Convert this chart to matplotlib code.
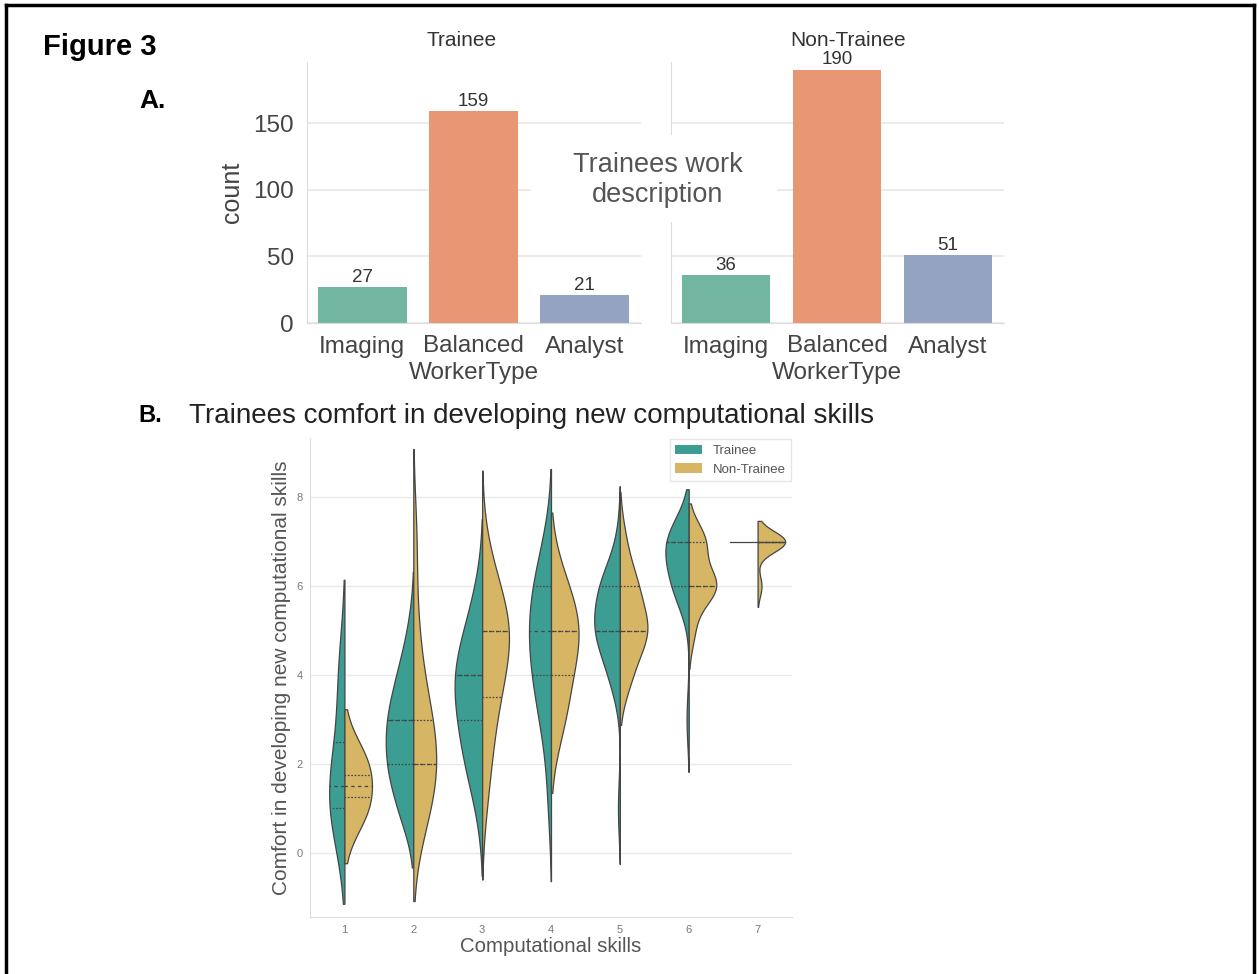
import colorsys
import matplotlib
matplotlib.use('Agg')
import matplotlib.pyplot as plt
import matplotlib.colors as mcolors
import numpy as np
from matplotlib.patches import Patch, Rectangle
from matplotlib.lines import Line2D

plt.rcParams['font.family'] = ['Liberation Sans', 'DejaVu Sans']

# panel A: how trainees / non-trainees describe their work
worker_types = ['Imaging', 'Balanced', 'Analyst']
trainee_counts = [27, 159, 21]
nontrainee_counts = [36, 190, 51]
bar_palette = ['#66c2a5', '#fc8d62', '#8da0cb']  # Set2

# panel B: number of answers per comfort rating (0..8) for each skill level 1..7
skill_levels = [1, 2, 3, 4, 5, 6, 7]
ratings = [0, 1, 2, 3, 4, 5, 6, 7, 8]
trainee_comfort = [
    [0, 2, 1, 0, 1, 0, 0, 0, 0],
    [0, 3, 5, 5, 3, 1, 0, 0, 0],
    [0, 1, 3, 4, 5, 3, 1, 0, 0],
    [0, 1, 1, 3, 5, 6, 5, 2, 0],
    [0, 1, 0, 0, 4, 10, 8, 1, 0],
    [0, 0, 0, 1, 0, 0, 6, 9, 0],
    [0, 0, 0, 0, 0, 0, 0, 1, 0],
]
nontrainee_comfort = [
    [0, 1, 1, 0, 0, 0, 0, 0, 0],
    [0, 3, 4, 3, 1, 1, 0, 1, 0],
    [0, 1, 2, 3, 5, 7, 4, 1, 0],
    [0, 0, 0, 1, 1, 2, 1, 0, 0],
    [0, 0, 0, 0, 2, 5, 3, 1, 0],
    [0, 0, 0, 0, 0, 1, 5, 3, 0],
    [0, 0, 0, 0, 0, 0, 1, 7, 0],
]
violin_colors = ['#3c9d93', '#d6b564']
group_names = ['Trainee', 'Non-Trainee']

W, H = 1259, 974
fig = plt.figure(figsize=(W / 100, H / 100), dpi=100)


def px_axes(l, t, r, b):
    return fig.add_axes([l / W, 1 - b / H, (r - l) / W, (b - t) / H])


def desat(c, s=0.75):
    h, l, sat = colorsys.rgb_to_hls(*mcolors.to_rgb(c))
    return colorsys.hls_to_rgb(h, l, sat * s)


def kde_curve(vals):
    bw = vals.std(ddof=1) * len(vals) ** (-1 / 5)
    grid = np.linspace(vals.min() - 2 * bw, vals.max() + 2 * bw, 100)
    z = (grid[:, None] - vals[None, :]) / bw
    dens = np.exp(-0.5 * z ** 2).sum(axis=1) / (len(vals) * bw * np.sqrt(2 * np.pi))
    return grid, dens


txt = '#444444'
spine_c = '#dcdcdc'
grid_c = '#e9e9e9'

# ---- panel A bars
ax1 = px_axes(306.5, 62, 640.5, 323)
ax2 = px_axes(670.5, 62, 1003.5, 323)
for ax, counts, title, tx in [(ax1, trainee_counts, 'Trainee', 0.463),
                              (ax2, nontrainee_counts, 'Non-Trainee', 0.533)]:
    ax.bar(range(3), counts, width=0.8, color=[desat(c) for c in bar_palette])
    ax.set_xlim(-0.5, 2.5)
    ax.set_ylim(0, 195.8)
    ax.set_yticks([0, 50, 100, 150])
    ax.set_xticks(range(3), worker_types)
    ax.grid(axis='y', color=grid_c, lw=1.3)
    ax.set_axisbelow(True)
    for s in ['top', 'right']:
        ax.spines[s].set_visible(False)
    for s in ['left', 'bottom']:
        ax.spines[s].set_color(spine_c)
    ax.tick_params(axis='x', length=0, labelsize=17.5, colors=txt, pad=9)
    ax.tick_params(axis='y', length=0, labelsize=17.5, colors=txt, pad=9)
    ax.set_xlabel('WorkerType', fontsize=17.5, color=txt, labelpad=3)
    for i, v in enumerate(counts):
        ax.text(i, v + 7.5, str(v), ha='center', va='center', fontsize=13.5, color='#333333')
    ax.text(tx, 1.084, title, transform=ax.transAxes, ha='center', va='center',
            fontsize=15, color='#333333')
ax2.tick_params(axis='y', labelleft=False)
ax1.set_ylabel('count', fontsize=18, color=txt, labelpad=7)

# ---- panel B split violins
ax3 = px_axes(310, 438, 792, 917)
gray = '#454545'
lw = 0.9
half_w = 0.4
for i in range(len(skill_levels)):
    groups = [np.repeat(ratings, trainee_comfort[i]).astype(float),
              np.repeat(ratings, nontrainee_comfort[i]).astype(float)]
    curves = [kde_curve(g) if len(g) > 1 else None for g in groups]
    peak = max(c[1].max() for c in curves if c is not None)
    for side, g, c, color in zip((-1, 1), groups, curves, violin_colors):
        if c is None:
            ax3.plot([i - half_w, i + half_w], [g[0], g[0]], color=gray, lw=lw, zorder=3)
            continue
        grid, dens = c
        w = dens / peak * half_w
        ax3.fill_betweenx(grid, i, i + side * w, facecolor=color, edgecolor=gray, lw=lw, zorder=2)
        for q, d in zip(np.percentile(g, [25, 50, 75]), [1.5, 3, 1.5]):
            wq = np.interp(q, grid, w)
            ax3.plot([i, i + side * wq], [q, q], color=gray, lw=lw, dashes=[lw * d] * 2, zorder=3)

ax3.set_xlim(-0.5, 6.5)
ax3.set_ylim(-1.44, 9.33)
ax3.set_yticks([0, 2, 4, 6, 8])
ax3.set_xticks(range(len(skill_levels)), skill_levels)
ax3.grid(axis='y', color=grid_c, lw=1.0)
ax3.set_axisbelow(True)
for s in ['top', 'right']:
    ax3.spines[s].set_visible(False)
for s in ['left', 'bottom']:
    ax3.spines[s].set_color(spine_c)
ax3.tick_params(axis='y', length=0, labelsize=8, colors='#777777', pad=5)
ax3.tick_params(axis='x', length=0, labelsize=8, colors='#777777', pad=6)
ax3.set_xlabel('Computational skills', fontsize=14.7, color='#555555', labelpad=1)
ax3.set_ylabel('Comfort in developing new computational skills', fontsize=15,
               color='#555555', labelpad=4)
handles = [Patch(facecolor=c, edgecolor='none') for c in violin_colors]
leg = ax3.legend(handles, group_names, loc='upper right', fontsize=9.5, labelcolor='#555555',
                 borderaxespad=0.1, handlelength=2.0, frameon=True, fancybox=False)
leg.get_frame().set_edgecolor('#e0e0e0')

# ---- figure level text
box = Rectangle((531 / W, 1 - 222 / H), (777 - 531) / W, (222 - 135) / H,
                transform=fig.transFigure, facecolor='white', edgecolor='none', zorder=1)
fig.add_artist(box)
fig.text(658 / W, 1 - 180 / H, 'Trainees work\ndescription', ha='center', va='center',
         fontsize=19.5, color='#555555', linespacing=1.25, zorder=2)
fig.text(43 / W, 1 - 47 / H, 'Figure 3', fontsize=21, fontweight='bold', va='center')
fig.text(139 / W, 1 - 101 / H, 'A.', fontsize=19, fontweight='bold', va='center')
fig.text(138 / W, 1 - 416 / H, 'B.', fontsize=17, fontweight='bold', va='center')
fig.text(189 / W, 1 - 416 / H, 'Trainees comfort in developing new computational skills',
         fontsize=20, color='#222222', va='center')

# frame round the figure (open at the bottom edge)
for xs, ys in [([6, 6], [974, 5]), ([6, 1254], [5, 5]), ([1254, 1254], [5, 974])]:
    fig.add_artist(Line2D([x / W for x in xs], [1 - y / H for y in ys],
                          transform=fig.transFigure, color='black', lw=2.5))

fig.savefig('out.png', dpi=100)
